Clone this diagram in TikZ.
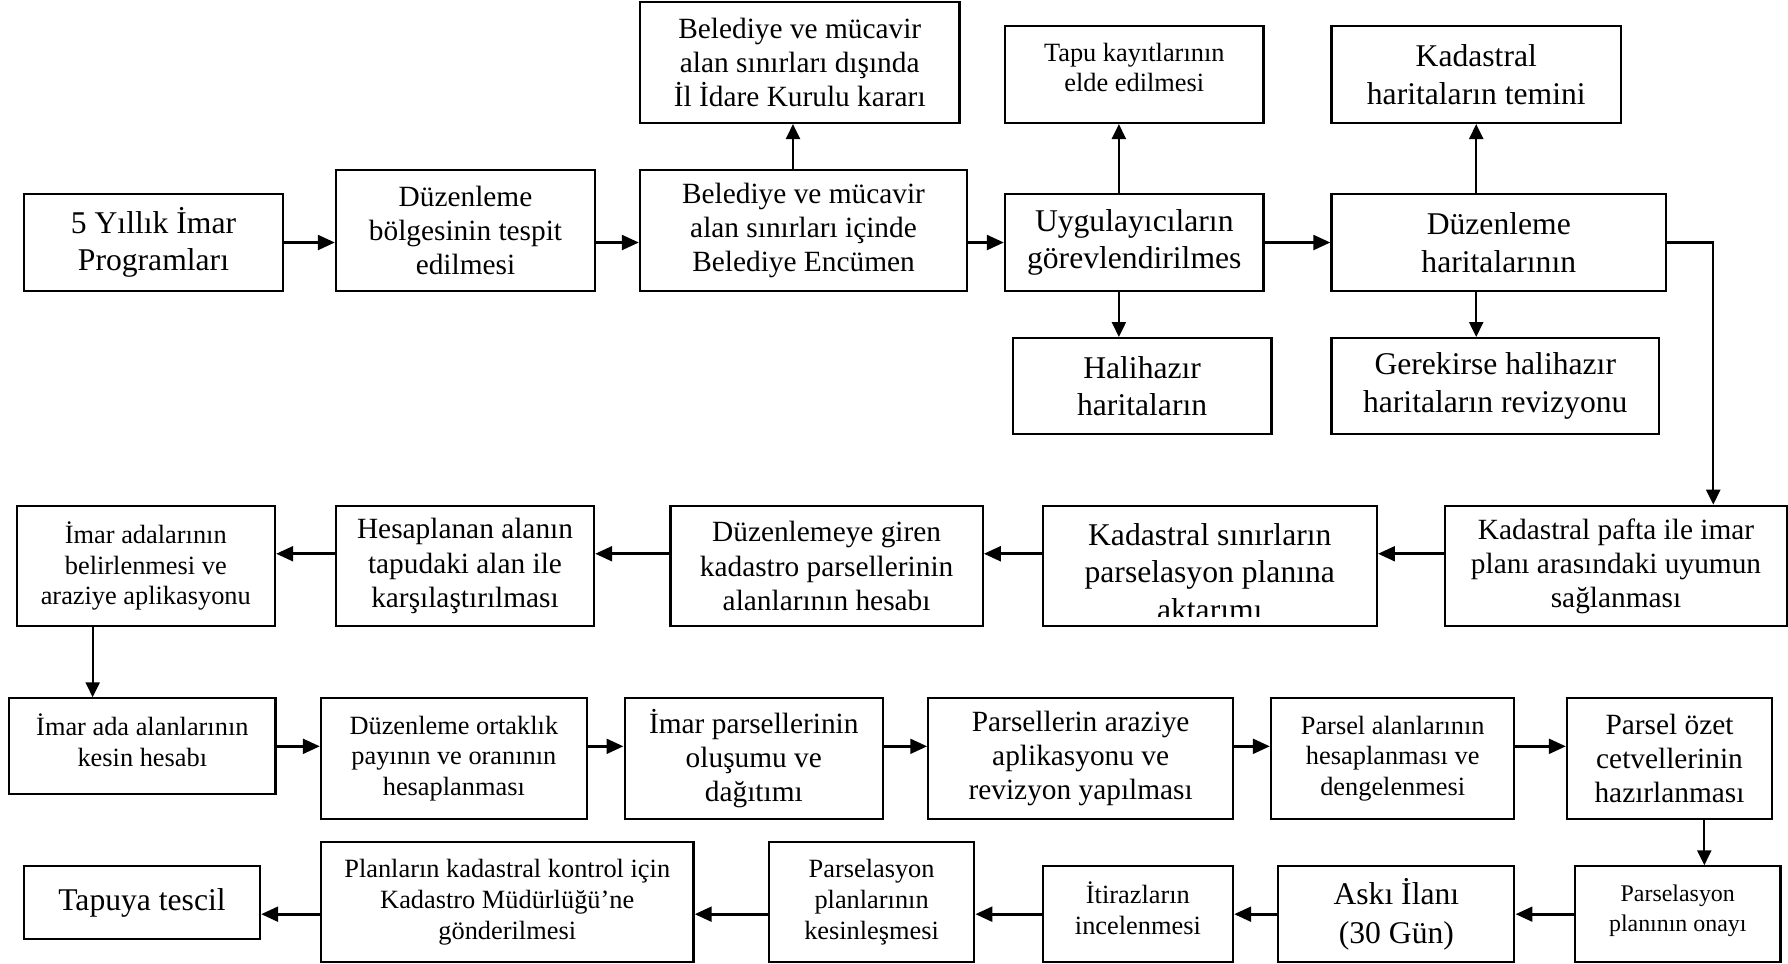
\documentclass[tikz,border=0pt]{standalone}
\usepackage{fontspec}
\setmainfont{Liberation Serif}
\usepackage{tikz}
\usetikzlibrary{arrows.meta,calc,positioning}

\begin{document}
\begin{tikzpicture}[box/.style={draw, line width=0.6pt, align=center, inner sep=1pt},
                    txtbig/.style={font=\fontsize{9}{10.7}\selectfont},
                    txtmid/.style={font=\fontsize{8.35}{9.7}\selectfont},
                    txtsmall/.style={font=\fontsize{7.5}{8.7}\selectfont},
                    txttiny/.style={font=\fontsize{6.8}{8.5}\selectfont},
                    harr/.style={line width=0.95pt, -{Triangle[length=1.7mm,width=1.45mm]}},
                    varr/.style={line width=0.65pt, -{Triangle[length=1.5mm,width=1.4mm]}}]
\useasboundingbox (0,0) rectangle (17.88,-9.63);

% first row
\node[box, txtbig, minimum width=2.59cm, minimum height=0.97cm] (a) at (1.535,-2.425) {5 Yıllık İmar\\Programları};
\node[box, txtmid, minimum width=2.59cm, minimum height=1.21cm] (b) at (4.655,-2.305) {Düzenleme\\bölgesinin tespit\\edilmesi};
\node[box, txtmid, minimum width=3.27cm, minimum height=1.21cm] (c) at (8.035,-2.305) {Belediye ve mücavir\\alan sınırları içinde\\Belediye Encümen};
\node[box, txtmid, minimum width=3.195cm, minimum height=1.21cm] (cout) at (7.9975,-0.625) {Belediye ve mücavir\\alan sınırları dışında\\İl İdare Kurulu kararı};
\node[box, txtbig, minimum width=2.585cm, minimum height=0.97cm] (d) at (11.3425,-2.425) {Uygulayıcıların\\görevlendirilmes};
\node[box, txtsmall, text depth=4pt, minimum width=2.585cm, minimum height=0.97cm] (tapu) at (11.3425,-0.745) {Tapu kayıtlarının\\elde edilmesi};
\node[box, txtbig, minimum width=2.588cm, minimum height=0.963cm] (hali) at (11.421,-3.862) {Halihazır\\haritaların};
\node[box, txtbig, minimum width=3.345cm, minimum height=0.97cm] (e) at (14.9875,-2.425) {Düzenleme\\haritalarının};
\node[box, txtbig, minimum width=2.895cm, minimum height=0.97cm] (kad) at (14.7625,-0.745) {Kadastral\\haritaların temini};
\node[box, txtbig, minimum width=3.275cm, minimum height=0.963cm] (rev) at (14.9525,-3.862) {Gerekirse halihazır\\haritaların revizyonu};

% second row
\node[box, txtmid, minimum width=3.415cm, minimum height=1.206cm] (f) at (16.16,-5.66) {Kadastral pafta ile imar\\planı arasındaki uyumun\\sağlanması};
\node[box, minimum width=3.341cm, minimum height=1.206cm] (g) at (12.0975,-5.66) {};
\begin{scope}
  \clip ($(g.south west)+(0,0.11)$) rectangle (g.north east);
  \node[txtbig, align=center] at ($(g.center)+(0,-0.06)$) {Kadastral sınırların\\parselasyon planına\\aktarımı};
\end{scope}
\node[box, txtmid, minimum width=3.122cm, minimum height=1.206cm] (h) at (8.266,-5.66) {Düzenlemeye giren\\kadastro parsellerinin\\alanlarının hesabı};
\node[box, txtmid, minimum width=2.58cm, minimum height=1.206cm] (i) at (4.65,-5.66) {Hesaplanan alanın\\tapudaki alan ile\\karşılaştırılması};
\node[box, txtsmall, minimum width=2.584cm, minimum height=1.206cm] (j) at (1.458,-5.66) {İmar adalarının\\belirlenmesi ve\\araziye aplikasyonu};

% third row
\node[box, txtsmall, text depth=3.4pt, minimum width=2.663cm, minimum height=0.96cm] (k) at (1.4235,-7.463) {İmar ada alanlarının\\kesin hesabı};
\node[box, txtsmall, minimum width=2.657cm, minimum height=1.204cm] (l) at (4.5385,-7.585) {Düzenleme ortaklık\\payının ve oranının\\hesaplanması};
\node[box, txtmid, minimum width=2.584cm, minimum height=1.204cm] (m) at (7.538,-7.585) {İmar parsellerinin\\oluşumu ve\\dağıtımı};
\node[box, txtmid, minimum width=3.047cm, minimum height=1.204cm] (n) at (10.8065,-7.585) {Parsellerin araziye\\aplikasyonu ve\\revizyon yapılması};
\node[box, txtsmall, minimum width=2.434cm, minimum height=1.204cm] (o) at (13.927,-7.585) {Parsel alanlarının\\hesaplanması ve\\dengelenmesi};
\node[box, txtmid, minimum width=2.05cm, minimum height=1.204cm] (p) at (16.695,-7.585) {Parsel özet\\cetvellerinin\\hazırlanması};

% fourth row
\node[box, txttiny, text depth=3.5pt, minimum width=2.055cm, minimum height=0.957cm] (q) at (16.7775,-9.1415) {Parselasyon\\planının onayı};
\node[box, txtbig, font=\fontsize{9}{11.2}\selectfont, minimum width=2.361cm, minimum height=0.957cm] (r) at (13.9635,-9.1415) {Askı İlanı\\(30 Gün)};
\node[box, txtsmall, text depth=3.4pt, minimum width=1.903cm, minimum height=0.957cm] (s) at (11.3785,-9.1415) {İtirazların\\incelenmesi};
\node[box, txtsmall, minimum width=2.052cm, minimum height=1.197cm] (t) at (8.716,-9.0215) {Parselasyon\\planlarının\\kesinleşmesi};
\node[box, txtsmall, minimum width=3.725cm, minimum height=1.197cm] (u) at (5.0725,-9.0215) {Planların kadastral kontrol için\\Kadastro Müdürlüğü’ne\\gönderilmesi};
\node[box, txtbig, minimum width=2.36cm, minimum height=0.724cm] (v) at (1.42,-9.025) {Tapuya tescil};

% connectors
\draw[harr] (a.east) -- (a.east -| b.west);
\draw[harr] (a.east -| b.east) -- (a.east -| c.west);
\draw[harr] (a.east -| c.east) -- (d.west);
\draw[harr] (d.east) -- (e.west);
\draw[varr] ($(c.north west)!0.468!(c.north east)$) coordinate (c1) -- (c1 |- cout.south);
\draw[varr] ($(d.north west)!0.441!(d.north east)$) coordinate (d1) -- (d1 |- tapu.south);
\draw[varr] (d1 |- d.south) -- (d1 |- hali.north);
\draw[varr] ($(e.north west)!0.433!(e.north east)$) coordinate (e1) -- (e1 |- kad.south);
\draw[varr] (e1 |- e.south) -- (e1 |- rev.north);
\draw[varr] (e.east) -| ($(f.north west)!0.783!(f.north east)$);

\draw[harr] ($(f.north west)!0.4!(f.south west)$) coordinate (f1) -- (f1 -| g.east);
\draw[harr] (f1 -| g.west) -- (f1 -| h.east);
\draw[harr] (f1 -| h.west) -- (f1 -| i.east);
\draw[harr] (f1 -| i.west) -- (f1 -| j.east);
\draw[varr] ($(j.south west)!0.296!(j.south east)$) coordinate (j1) -- (j1 |- k.north);

\draw[harr] (k.east) -- (k.east -| l.west);
\draw[harr] (k.east -| l.east) -- (k.east -| m.west);
\draw[harr] (k.east -| m.east) -- (k.east -| n.west);
\draw[harr] (k.east -| n.east) -- (k.east -| o.west);
\draw[harr] (k.east -| o.east) -- (k.east -| p.west);
\draw[varr] ($(p.south west)!0.668!(p.south east)$) coordinate (p1) -- (p1 |- q.north);

\draw[harr] (q.west) -- (r.east);
\draw[harr] (r.west) -- (s.east);
\draw[harr] (s.west) -- (s.west -| t.east);
\draw[harr] (s.west -| t.west) -- (s.west -| u.east);
\draw[harr] (s.west -| u.west) -- (s.west -| v.east);
\end{tikzpicture}
\end{document}
